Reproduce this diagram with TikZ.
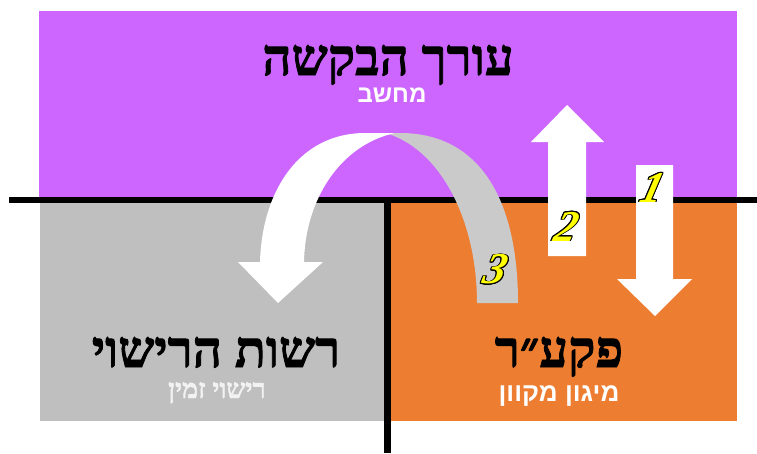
\documentclass[tikz,border=0pt]{standalone}
\usepackage{fontspec}
\usepackage{contour}
\TeXXeTstate=1
\newfontfamily\hebserif[Script=Hebrew, BoldFeatures={FakeBold=1.6}]{Liberation Serif}
\newfontfamily\hebsans[Script=Hebrew]{Liberation Sans}
\newfontfamily\numfont{Liberation Serif}
\definecolor{reqpurple}{RGB}{204,102,255}
\definecolor{authgray}{RGB}{191,191,191}
\definecolor{hfcorange}{RGB}{237,125,49}
\definecolor{backgray}{RGB}{202,202,202}
\definecolor{stepyellow}{RGB}{255,255,0}
\definecolor{paletext}{RGB}{242,242,242}
\contourlength{0.8pt}
\tikzset{
  heading/.style={anchor=base, inner sep=0pt, font=\hebserif\bfseries\fontsize{51}{51}\selectfont},
  subheading/.style={anchor=base, inner sep=0pt, text=white, font=\hebsans\bfseries\fontsize{24}{24}\selectfont},
  stepnum/.style={inner sep=0pt, xslant=0.25, text=stepyellow, font=\numfont\bfseries\itshape\fontsize{44}{44}\selectfont}
}
\begin{document}
\begin{tikzpicture}[x=1pt,y=-1pt]
\useasboundingbox (0,0) rectangle (757,453);
% areas
\fill[reqpurple] (39,11) rectangle (737,198);
\fill[authgray] (40,200) rectangle (387,421);
\fill[hfcorange] (387,200) rectangle (737,421);
\draw[line width=6pt] (9,200) -- (757,200);
\draw[line width=7pt] (387,200) -- (387,453);
% titles
\node[heading] (req) at (388,75) {\beginR עורך הבקשה\endR};
\node[subheading] (reqsub) at (392,102) {\beginR מחשב\endR};
\node[heading] (auth) at (216,367) {\beginR רשות הרישוי\endR};
\node[subheading, text=paletext, font=\hebserif\bfseries\fontsize{27}{27}\selectfont] (authsub) at (217,398) {\beginR רישוי זמין\endR};
\node[heading] (hfc) at (559,367) {\beginR פקע״ר\endR};
\node[subheading, font=\hebsans\bfseries\fontsize{26}{26}\selectfont] (hfcsub) at (559,401) {\beginR מיגון מקוון\endR};
% step 1 and 2
\fill[white] (636,165) -- ++(37,0) -- ++(0,114) -- ++(19,0) -- (655,316) -- (617,279) -- ++(19,0) -- cycle;
\fill[white] (548,256) -- ++(0,-114) -- ++(-17,0) -- (567,105) -- (604,142) -- ++(-18,0) -- ++(0,114) -- cycle;
% step 3
\fill[backgray] (518,303) .. controls (518,200) and (480,133) .. (400,133) -- (385,133)
  .. controls (440,148) and (477,220) .. (477,303) -- cycle;
\fill[white] (304,262) .. controls (305,200) and (340,145) .. (395,133) -- (365,133)
  .. controls (300,133) and (262,190) .. (260,262) -- (238,262) -- (278,303) -- (323,262) -- cycle;
\node[stepnum] (s1) at (653,188) {\contour{black}{1}};
\node[stepnum] (s2) at (567,227) {\contour{black}{2}};
\node[stepnum] (s3) at (496,270) {\contour{black}{3}};
\end{tikzpicture}
\end{document}
